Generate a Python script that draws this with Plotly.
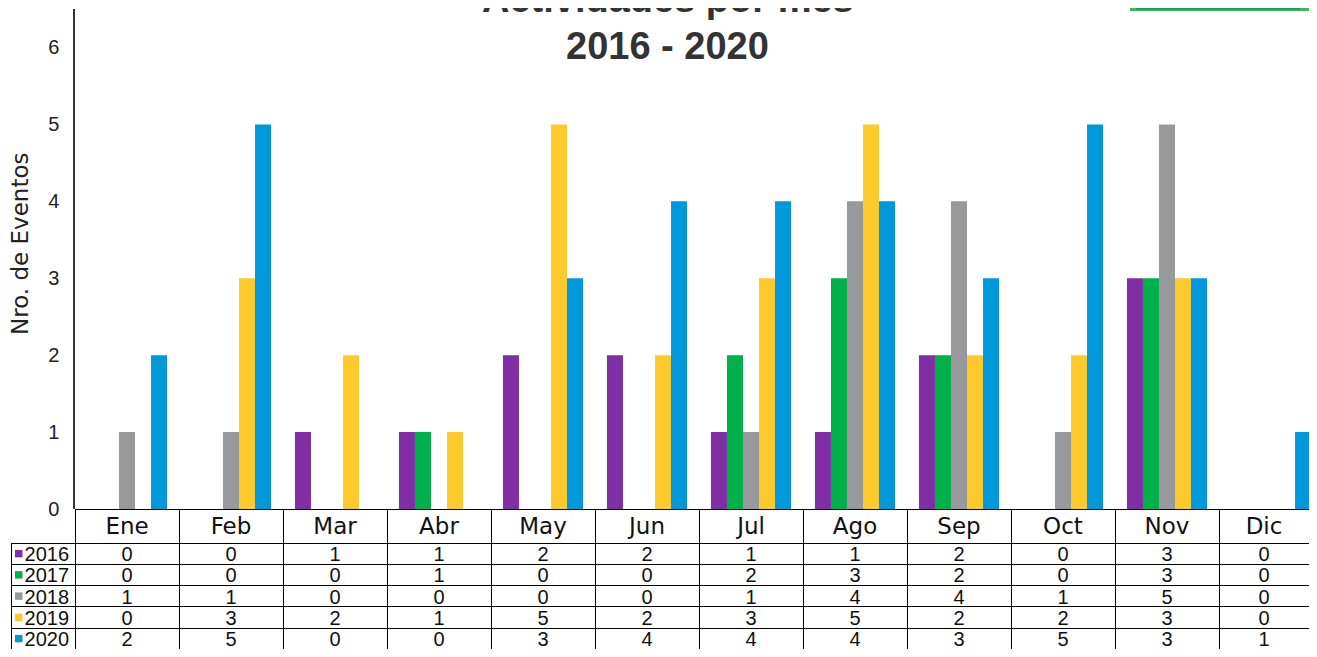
import plotly.graph_objects as go

months = ["Ene", "Feb", "Mar", "Abr", "May", "Jun", "Jul", "Ago", "Sep", "Oct", "Nov", "Dic"]
years = ["2016", "2017", "2018", "2019", "2020"]
v2016 = [0, 0, 1, 1, 2, 2, 1, 1, 2, 0, 3, 0]
v2017 = [0, 0, 0, 1, 0, 0, 2, 3, 2, 0, 3, 0]
v2018 = [1, 1, 0, 0, 0, 0, 1, 4, 4, 1, 5, 0]
v2019 = [0, 3, 2, 1, 5, 2, 3, 5, 2, 2, 3, 0]
v2020 = [2, 5, 0, 0, 3, 4, 4, 4, 3, 5, 3, 1]
series = [v2016, v2017, v2018, v2019, v2020]
colors = ["#7f2ea3", "#00b04a", "#98999b", "#fdca2e", "#0098da"]
y_ticks = [0, 1, 2, 3, 4, 5, 6]

# the page body has an 8px margin on every side; size the figure so the page fits the window
OFF = 8
W, H = 1317 - 2 * OFF, 657 - 2 * OFF
ML, MT = 3, 1
PW, PH = W - ML, H - MT


def px(xr):  # window x -> paper
    return (xr - OFF - ML) / PW


def py(yr):  # window y -> paper
    return 1 - (yr - OFF - MT) / PH


SANS = "Liberation Sans, Arial, Helvetica, sans-serif"
WIDE = "DejaVu Sans, Verdana, sans-serif"
CLEAR = "rgba(0,0,0,0)"

fig = go.Figure()
for yr, vals, col in zip(years, series, colors):
    fig.add_trace(go.Bar(x=months, y=vals, name=yr, marker=dict(color=col, line=dict(width=0)),
                         showlegend=False))

# data table: grid + month header, then a transparent text layer lifted a few px
TABLE_TOP = 509
TEXT_LIFT = 5
HEADER_H, ROW_H = 34, 21.25
legend_cells = ["\u00a0" + y for y in years]
month_cols = [[str(s[i]) for s in series] for i in range(len(months))]
colw = [64] + [104] * 11 + [PW - 64 - 104 * 11]
ncol = len(colw)
fig.add_trace(go.Table(
    domain=dict(x=[0, 1], y=[0, py(TABLE_TOP)]),
    columnwidth=colw,
    header=dict(values=[""] + months, height=HEADER_H,
                fill=dict(color=[CLEAR] + ["white"] * 12),
                line=dict(color=[CLEAR] + ["black"] * 12, width=1),
                font=dict(family=WIDE, size=23, color="#111"), align="center"),
    cells=dict(values=[[""] * 5 for _ in range(ncol)], height=ROW_H,
               fill=dict(color="white"),
               line=dict(color="black", width=1),
               font=dict(family=SANS, size=20, color="#111")),
))
fig.add_trace(go.Table(
    domain=dict(x=[0, 1], y=[0, py(TABLE_TOP - TEXT_LIFT)]),
    columnwidth=colw,
    header=dict(values=[""] * ncol, height=HEADER_H,
                fill=dict(color=CLEAR), line=dict(color=CLEAR, width=0)),
    cells=dict(values=[legend_cells] + month_cols, height=ROW_H,
               fill=dict(color=CLEAR),
               line=dict(color=CLEAR, width=0),
               font=dict(family=SANS, size=20, color="#111"),
               align=["left"] + ["center"] * 12),
))

# legend keys in the table's first column
shapes = []
for i, c in enumerate(colors):
    yc = TABLE_TOP + HEADER_H + ROW_H * (i + 0.5)
    shapes.append(dict(type="rect", xref="paper", yref="paper", x0=px(15), x1=px(22.5),
                       y0=py(yc + 3.7), y1=py(yc - 3.7), fillcolor=c, line=dict(width=0),
                       layer="above"))
# corner logo fragment
shapes.append(dict(type="rect", xref="paper", yref="paper", x0=px(1130), x1=1,
                   y0=py(11), y1=1 + MT / PH, fillcolor="#3db65c", line=dict(width=0), layer="above"))
shapes.append(dict(type="rect", xref="paper", yref="paper", x0=px(1136), x1=px(1300),
                   y0=py(9.5), y1=1 + MT / PH, fillcolor="#159a50", line=dict(width=0), layer="above"))

fig.update_layout(
    width=W, height=H,
    margin=dict(l=ML, r=0, t=MT, b=0, pad=0, autoexpand=False),
    paper_bgcolor="white", plot_bgcolor="white",
    barmode="group", bargap=0.23, bargroupgap=0,
    xaxis=dict(domain=[px(75), 1], range=[-0.5, -0.5 + (W - (75 - OFF)) / 104], showticklabels=False,
               showline=False, showgrid=False, zeroline=False, ticks="", automargin=False,
               title=dict(text="")),
    yaxis=dict(domain=[py(TABLE_TOP), 1], range=[0, 6.5], tickvals=y_ticks, showgrid=False,
               zeroline=False, showline=True, linecolor="#333", linewidth=1.5, ticks="",
               ticklabelstandoff=10, automargin=False,
               tickfont=dict(family=SANS, size=20, color="#222")),
    annotations=[
        dict(text="<b>Actividades por mes</b>", x=px(667.5), y=py(-0.6),
             xref="paper", yref="paper", xanchor="center", yanchor="middle", showarrow=False,
             font=dict(family=SANS, size=38, color="#333")),
        dict(text="<b>2016 - 2020</b>", x=px(667.5), y=py(46),
             xref="paper", yref="paper", xanchor="center", yanchor="middle", showarrow=False,
             font=dict(family=SANS, size=38, color="#333")),
        dict(text="Nro. de Eventos", x=px(20), y=py(244),
             xref="paper", yref="paper", xanchor="center", yanchor="middle", showarrow=False,
             textangle=-90, font=dict(family=WIDE, size=23, color="#222")),
    ],
    shapes=shapes,
)

fig.write_html("out.html")
